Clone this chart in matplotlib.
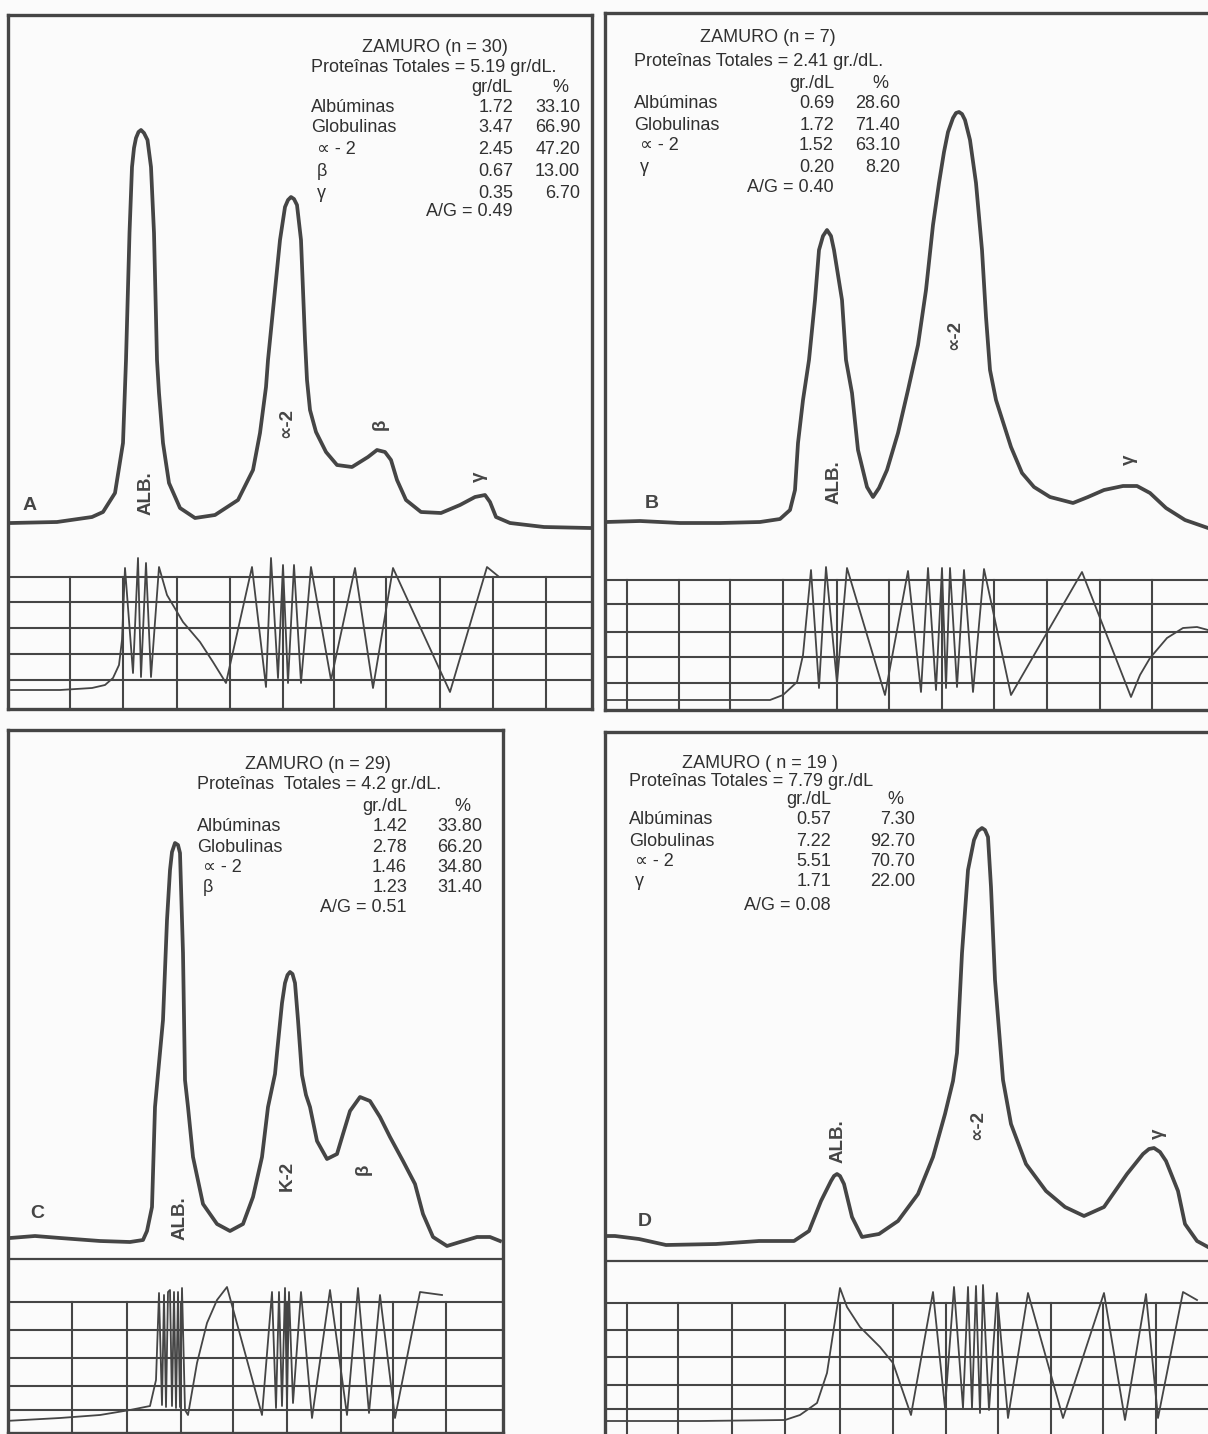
import matplotlib
matplotlib.use("Agg")
import matplotlib.pyplot as plt

W, H = 1208, 1434
INK = "#454545"
PAPER = "#fbfbfb"
FONT = ["Liberation Sans", "DejaVu Sans"]

# ---- densitometer curves ----
a_x = [11, 57, 92, 103, 115, 123, 126, 129.5, 132, 134, 136, 138.5, 141, 144, 147.5, 151, 154, 157,
       159, 163, 169, 180, 195, 215, 238, 253, 260, 266, 268, 274, 280, 285, 288, 291, 294, 297, 301,
       303, 305, 307, 310, 316, 326, 337, 352, 368, 377, 385, 391, 397, 406, 421, 441, 460, 475, 485,
       490, 496, 510, 544, 590]
a_y = [523, 522, 517, 512, 493, 443, 360, 233, 167, 148, 138, 132, 130, 133, 140, 167, 233, 360,
       393, 443, 483, 508, 518, 515, 500, 470, 433, 387, 360, 300, 240, 207, 200, 197, 199, 205, 240,
       290, 340, 380, 410, 432, 452, 465, 467, 457, 450, 452, 460, 480, 500, 512, 513, 505, 497, 495,
       502, 517, 523, 527, 528]

b_x = [606, 640, 680, 720, 760, 780, 790, 795, 798, 803, 809, 815, 819, 823, 827, 831, 834, 842, 846,
       852, 858, 867, 873, 879, 887, 898, 908, 918, 926, 933, 939, 944, 948, 953, 956, 959, 962, 965,
       970, 976, 982, 986, 990, 996, 1011, 1022, 1034, 1050, 1073, 1088, 1104, 1123, 1137, 1150, 1166,
       1185, 1208]
b_y = [522, 521, 523, 523, 522, 519, 510, 490, 443, 400, 360, 300, 250, 236, 230, 236, 250, 300, 360,
       393, 450, 487, 497, 488, 470, 433, 390, 345, 290, 225, 183, 152, 132, 118, 113, 112, 114, 120,
       140, 183, 250, 317, 370, 400, 447, 473, 487, 497, 503, 497, 490, 486, 486, 493, 508, 520, 528]

c_x = [10, 35, 60, 100, 130, 143, 147, 152, 155, 158, 163, 167, 170, 172, 175, 178, 180, 183, 185,
       188, 193, 203, 217, 230, 243, 253, 262, 268, 275, 277, 282, 285, 287.5, 290, 292.5, 295, 298,
       302, 306, 310, 317, 327, 337, 343, 350, 360, 370, 380, 390, 403, 415, 423, 433, 447, 460, 477,
       490, 500]
c_y = [1238, 1236, 1238, 1241, 1242, 1240, 1231, 1207, 1107, 1074, 1020, 920, 870, 852, 843, 845, 853,
       953, 1080, 1107, 1157, 1204, 1224, 1231, 1224, 1197, 1157, 1107, 1074, 1053, 1003, 983, 975,
       972, 974, 983, 1020, 1075, 1095, 1107, 1141, 1159, 1154, 1134, 1111, 1097, 1101, 1117, 1137,
       1161, 1184, 1214, 1237, 1246, 1242, 1237, 1237, 1241]

d_x = [607, 615, 639, 666, 716, 759, 794, 809, 821, 831, 834, 837, 840, 844, 852, 862, 879, 898, 918,
       933, 945, 953, 957, 962, 968, 974, 978, 982, 985, 988, 991, 995, 1003, 1011, 1026, 1046, 1065,
       1084, 1104, 1127, 1143, 1149, 1154, 1160, 1166, 1178, 1185, 1197, 1208]
d_y = [1236, 1236, 1239, 1245, 1244, 1241, 1241, 1231, 1201, 1181, 1176, 1174, 1176, 1184, 1217, 1237,
       1234, 1221, 1194, 1157, 1114, 1081, 1053, 953, 870, 840, 831, 828, 830, 837, 887, 980, 1080,
       1124, 1164, 1191, 1207, 1216, 1207, 1174, 1154, 1149, 1148, 1152, 1161, 1191, 1224, 1241, 1247]

# ---- integrator traces ----
ta_x = [11, 60, 92, 105, 113, 119, 122, 125, 133, 138, 141, 146, 151, 159, 167, 183, 200, 213, 226,
        252, 266, 271, 278, 283, 288, 294, 301, 311, 331, 355, 373, 393, 450, 487, 498]
ta_y = [690, 690, 688, 685, 678, 665, 640, 568, 673, 558, 677, 563, 677, 567, 595, 622, 642, 662, 683,
        567, 687, 558, 678, 565, 683, 565, 683, 567, 680, 568, 688, 568, 692, 567, 576]

tb_x = [606, 700, 770, 783, 797, 803, 811, 819, 826, 837, 847, 885, 908, 921, 928, 936, 942, 946, 950,
        957, 964, 973, 984, 1011, 1082, 1131, 1140, 1150, 1167, 1183, 1197, 1208]
tb_y = [700, 700, 700, 695, 682, 655, 570, 688, 567, 683, 568, 695, 571, 692, 568, 690, 568, 688, 568,
        687, 570, 692, 569, 695, 572, 697, 675, 658, 638, 628, 627, 630]

tc_x = [5, 60, 100, 130, 150, 156, 159, 162, 164, 166, 168, 170, 172, 174, 176, 178, 180, 182, 185,
        188, 197, 207, 217, 227, 262, 272, 276, 279, 282, 285, 287, 289, 293, 301, 312, 330, 347, 358,
        369, 380, 395, 420, 442]
tc_y = [1421, 1418, 1415, 1410, 1406, 1380, 1293, 1405, 1295, 1407, 1292, 1290, 1406, 1292, 1408,
        1292, 1407, 1288, 1410, 1415, 1363, 1323, 1300, 1287, 1415, 1292, 1408, 1292, 1406, 1288,
        1405, 1292, 1403, 1292, 1418, 1290, 1415, 1288, 1413, 1295, 1418, 1292, 1295]

td_x = [606, 700, 785, 800, 817, 827, 840, 847, 860, 880, 893, 911, 933, 945, 954, 963, 968, 972,
        976, 980, 983, 989, 997, 1008, 1028, 1063, 1104, 1125, 1146, 1158, 1183, 1197]
td_y = [1421, 1421, 1420, 1415, 1403, 1373, 1288, 1307, 1327, 1347, 1363, 1415, 1292, 1408, 1287,
        1408, 1287, 1408, 1286, 1413, 1285, 1410, 1293, 1418, 1293, 1418, 1293, 1420, 1294, 1418,
        1292, 1300]

# ---- tables ----
a_title = "ZAMURO (n = 30)"
a_total = "Proteînas Totales = 5.19 gr/dL."
a_unit = "gr/dL"
a_rows = ["Albúminas", "Globulinas", "∝ - 2", "β", "γ"]
a_gr = ["1.72", "3.47", "2.45", "0.67", "0.35"]
a_pct = ["33.10", "66.90", "47.20", "13.00", "6.70"]
a_ag = "A/G = 0.49"

b_title = "ZAMURO (n = 7)"
b_total = "Proteînas Totales = 2.41 gr./dL."
b_unit = "gr./dL"
b_rows = ["Albúminas", "Globulinas", "∝ - 2", "γ"]
b_gr = ["0.69", "1.72", "1.52", "0.20"]
b_pct = ["28.60", "71.40", "63.10", "8.20"]
b_ag = "A/G = 0.40"

c_title = "ZAMURO (n = 29)"
c_total = "Proteînas  Totales = 4.2 gr./dL."
c_unit = "gr./dL"
c_rows = ["Albúminas", "Globulinas", "∝ - 2", "β"]
c_gr = ["1.42", "2.78", "1.46", "1.23"]
c_pct = ["33.80", "66.20", "34.80", "31.40"]
c_ag = "A/G = 0.51"

d_title = "ZAMURO ( n = 19 )"
d_total = "Proteînas Totales = 7.79 gr./dL"
d_unit = "gr./dL"
d_rows = ["Albúminas", "Globulinas", "∝ - 2", "γ"]
d_gr = ["0.57", "7.22", "5.51", "1.71"]
d_pct = ["7.30", "92.70", "70.70", "22.00"]
d_ag = "A/G = 0.08"

# peak labels
a_peaks = ["ALB.", "∝-2", "β", "γ"]
b_peaks = ["ALB.", "∝-2", "γ"]
c_peaks = ["ALB.", "K-2", "β"]
d_peaks = ["ALB.", "∝-2", "γ"]


def panel(fig, box, sep=None):
    x0, y0, x1, y1 = box
    ax = fig.add_axes([x0 / W, 1 - y1 / H, (x1 - x0) / W, (y1 - y0) / H])
    ax.set_xlim(x0, x1)
    ax.set_ylim(y1, y0)
    ax.set_xticks([])
    ax.set_yticks([])
    ax.patch.set_alpha(0)
    for s in ax.spines.values():
        s.set_linewidth(2.4)
        s.set_color(INK)
    if sep is not None:
        ax.axhline(sep, color=INK, lw=1.6)
    return ax


def grid(ax, hlines, vlines, bottom):
    for y in hlines:
        ax.axhline(y, color=INK, lw=1.5)
    for x in vlines:
        ax.plot([x, x], [hlines[0], bottom], color=INK, lw=1.5)


def table(ax, lay, title, total, unit, rows, gr, pct, ag):
    kw = dict(family=FONT, fontsize=13, color="#303030", va="center")
    ax.text(lay["tx"], lay["ty"], title, ha="center", **kw)
    ax.text(lay["lx"], lay["y0"], total, ha="left", **kw)
    ax.text(lay["vx"], lay["uy"], unit, ha="right", **kw)
    ax.text(lay["px"] - 20, lay["uy"], "%", ha="center", **kw)
    for i, r in enumerate(rows):
        y = lay["ry"][i]
        lx = lay["lx"] + (0 if i < 2 else 6)
        ax.text(lx, y, r, ha="left", **kw)
        ax.text(lay["vx"], y, gr[i], ha="right", **kw)
        ax.text(lay["px"], y, pct[i], ha="right", **kw)
    ax.text(lay["vx"], lay["agy"], ag, ha="right", **kw)


def peaks(ax, labels, pos, letter, lpos):
    for lab, (x, y) in zip(labels, pos):
        ax.text(x, y, lab, rotation=90, ha="center", va="center", fontsize=13.5,
                fontweight="bold", family=FONT, color=INK)
    ax.text(lpos[0], lpos[1], letter, ha="center", va="center", fontsize=14,
            fontweight="bold", family=FONT, color=INK)


fig = plt.figure(figsize=(W / 100, H / 100), dpi=100)
fig.patch.set_facecolor(PAPER)

# A
ax = panel(fig, (8, 15, 592, 709))
grid(ax, [577, 602, 628, 654, 680], [70, 123, 177, 230, 283, 334, 386, 440, 493, 546], 709)
ax.plot(a_x, a_y, color=INK, lw=2.7, solid_joinstyle="round")
ax.plot(ta_x, ta_y, color=INK, lw=1.3)
table(ax, dict(tx=435, ty=47, lx=311, y0=67, vx=513, px=580, uy=88,
               ry=[107, 128, 150, 171, 193], agy=212),
      a_title, a_total, a_unit, a_rows, a_gr, a_pct, a_ag)
peaks(ax, a_peaks, [(146, 493), (287, 423), (380, 424), (479, 477)], "A", (30, 505))

# B
ax = panel(fig, (605, 13, 1216, 710))
grid(ax, [580, 604, 632, 657, 683], [627, 679, 730, 783, 837, 889, 942, 994, 1047, 1100, 1152], 710)
ax.plot(b_x, b_y, color=INK, lw=2.7, solid_joinstyle="round")
ax.plot(tb_x, tb_y, color=INK, lw=1.3)
table(ax, dict(tx=768, ty=37, lx=634, y0=61, vx=834, px=900, uy=84,
               ry=[103, 125, 146, 167], agy=188),
      b_title, b_total, b_unit, b_rows, b_gr, b_pct, b_ag)
peaks(ax, b_peaks, [(834, 482), (955, 335), (1129, 460)], "B", (652, 503))

# C
ax = panel(fig, (8, 730, 503, 1433), sep=1259)
grid(ax, [1302, 1330, 1358, 1386, 1410], [72, 127, 181, 233, 287, 341, 393, 446], 1433)
ax.plot(c_x, c_y, color=INK, lw=2.7, solid_joinstyle="round")
ax.plot(tc_x, tc_y, color=INK, lw=1.3)
table(ax, dict(tx=318, ty=765, lx=197, y0=785, vx=407, px=482, uy=807,
               ry=[827, 848, 868, 888], agy=908),
      c_title, c_total, c_unit, c_rows, c_gr, c_pct, c_ag)
peaks(ax, c_peaks, [(180, 1218), (287, 1176), (363, 1169)], "C", (37, 1214))

# D
ax = panel(fig, (605, 732, 1216, 1440), sep=1261)
grid(ax, [1303, 1330, 1357, 1385, 1409], [627, 678, 732, 785, 840, 893, 946, 998, 1051, 1103, 1156], 1440)
ax.plot(d_x, d_y, color=INK, lw=2.7, solid_joinstyle="round")
ax.plot(td_x, td_y, color=INK, lw=1.3)
table(ax, dict(tx=760, ty=763, lx=629, y0=782, vx=831, px=915, uy=800,
               ry=[820, 841, 861, 882], agy=905),
      d_title, d_total, d_unit, d_rows, d_gr, d_pct, d_ag)
peaks(ax, d_peaks, [(838, 1141), (978, 1125), (1158, 1134)], "D", (645, 1221))

fig.savefig("out.png", dpi=100, facecolor=PAPER)
